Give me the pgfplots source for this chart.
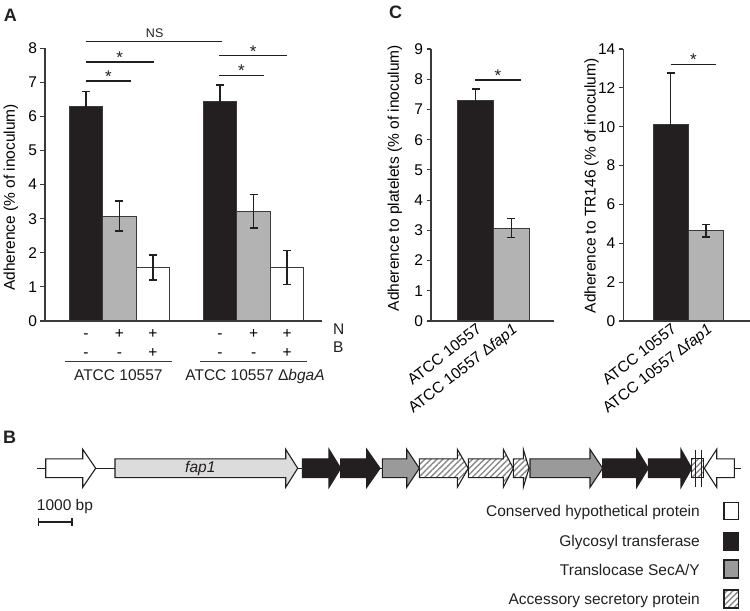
\documentclass[border=0pt]{standalone}
\usepackage{fontspec}
\setmainfont{Liberation Sans}
\usepackage{pgfplots}
\pgfplotsset{compat=1.18}
\usetikzlibrary{patterns.meta}
\definecolor{ink}{HTML}{231F20}
\definecolor{axc}{HTML}{3A3A3A}
\definecolor{bargray}{HTML}{B3B3B3}
\definecolor{genelight}{HTML}{DCDCDC}
\definecolor{genegray}{HTML}{9A9A9A}
\definecolor{hatchc}{HTML}{8A8A8A}
\newcommand{\txt}{\fontsize{15.5bp}{19bp}\selectfont}
\tikzset{
  hatch/.style={preaction={fill=white}, pattern={Lines[angle=45,distance=4.2bp,line width=1.4bp]}, pattern color=hatchc},
  sig/.style={ink, line width=1.3bp},
  sigstar/.style={anchor=base, inner sep=0pt, font=\fontsize{17bp}{17bp}\selectfont, yshift=-1.4bp, text=ink},
}
\newcommand{\gene}[4]{\draw[draw=ink, line width=1.1bp, #4] (#1,-9.4) -- (#2,-9.4) -- (#2,-19) -- (#3,0) -- (#2,19) -- (#2,9.4) -- (#1,9.4) -- cycle;}
\pgfplotsset{
  panel/.style={
    scale only axis, clip=false,
    axis x line*=bottom, axis y line*=left,
    axis line style={axc, line width=1.1bp, -},
    ytick style={axc, line width=1.1bp},
    xtick style={draw=none},
    tick align=outside,
    major tick length=4.5bp,
    ymin=0,
    ticklabel style={font=\txt},
    label style={font=\txt},
    /pgf/number format/assume math mode=true,
  },
  bars/.style={ybar, bar width=1, bar shift=0pt, draw=axc, line width=1bp,
    error bars/y dir=both, error bars/y explicit,
    error bars/error bar style={ink, line width=1.3bp},
    error bars/error mark options={ink, line width=1.3bp, mark size=4bp, rotate=90}},
  rotlabels/.style={xticklabel style={yshift=3bp, rotate=38, anchor=north east, inner sep=0pt}},
}
\begin{document}
\begin{tikzpicture}[font=\txt]
\path[use as bounding box] (0,0) rectangle (750bp,611bp);

% ---------------- Panel A ----------------
\begin{axis}[panel, at={(45bp,290bp)}, anchor=south west,
  width=277bp, height=272.7bp,
  xmin=-0.22, xmax=8.04, ymax=8, ytick={0,1,...,8},
  xtick={1,2,3,5,6,7},
  xticklabels={{\strut-\\-},{\strut+\\-},{\strut+\\+},{\strut-\\-},{\strut+\\-},{\strut+\\+}},
  xticklabel style={align=center, yshift=4bp},
  ylabel={Adherence (\% of inoculum)},
  ylabel style={at={(axis description cs:-0.123,0.453)}, anchor=center},
]
\addplot[bars, fill=ink] coordinates {(1,6.29) +- (0,0.45) (5,6.43) +- (0,0.49)};
\addplot[bars, fill=bargray] coordinates {(2,3.08) +- (0,0.44) (6,3.22) +- (0,0.49)};
\addplot[bars, fill=white] coordinates {(3,1.57) +- (0,0.37) (7,1.57) +- (0,0.50)};
\draw[sig] (axis cs:1,8.19) -- (axis cs:5.05,8.19);
\node[anchor=base, inner sep=0pt, font=\fontsize{12.5bp}{14bp}\selectfont, text=ink] at (axis cs:3.05,8.31) {NS};
\draw[sig] (axis cs:1,7.60) -- (axis cs:3.02,7.60);
\node[sigstar] at (axis cs:2.01,7.60) {*};
\draw[sig] (axis cs:1,7.04) -- (axis cs:2.34,7.04);
\node[sigstar] at (axis cs:1.67,7.04) {*};
\draw[sig] (axis cs:4.97,7.78) -- (axis cs:7.0,7.78);
\node[sigstar] at (axis cs:5.985,7.78) {*};
\draw[sig] (axis cs:4.97,7.21) -- (axis cs:6.31,7.21);
\node[sigstar] at (axis cs:5.64,7.21) {*};
\end{axis}

% ---------------- Panel C (platelets) ----------------
\begin{axis}[panel, rotlabels, at={(431bp,290bp)}, anchor=south west,
  width=123bp, height=272bp,
  xmin=-0.252, xmax=3.193, ymax=9, ytick={0,1,...,9},
  xtick={1,2}, xticklabels={ATCC 10557, ATCC 10557 Δ\textit{fap1}},
  ylabel={Adherence to platelets (\% of inoculum)},
  ylabel style={at={(axis description cs:-0.293,0.525)}, anchor=center},
]
\addplot[bars, fill=ink] coordinates {(1,7.31) +- (0,0.37)};
\addplot[bars, fill=bargray] coordinates {(2,3.07) +- (0,0.31)};
\draw[sig] (axis cs:0.99,7.97) -- (axis cs:2.26,7.97);
\node[sigstar] at (axis cs:1.625,7.97) {*};
\end{axis}

% ---------------- Panel C (TR146) ----------------
\begin{axis}[panel, rotlabels, at={(623.3bp,290bp)}, anchor=south west,
  width=126.7bp, height=272bp,
  xmin=-0.343, xmax=3.246, ymax=14, ytick={0,2,...,14},
  xtick={1,2}, xticklabels={ATCC 10557, ATCC 10557 Δ\textit{fap1}},
  ylabel={Adherence to TR146 (\% of inoculum)},
  ylabel style={at={(axis description cs:-0.251,0.497)}, anchor=center},
]
\addplot[bars, fill=ink] coordinates {(1,10.09) +- (0,2.67)};
\addplot[bars, fill=bargray] coordinates {(2,4.64) +- (0,0.32)};
\draw[sig] (axis cs:1,13.21) -- (axis cs:2.28,13.21);
\node[sigstar] at (axis cs:1.64,13.21) {*};
\end{axis}

% ---------------- pixel-coordinate annotations ----------------
\begin{scope}[x=1bp, y=-1bp, yshift=611bp, every node/.style={inner sep=0pt, text=ink}]
\node[font=\fontsize{18bp}{18bp}\selectfont\bfseries, anchor=center] at (10.3,15) {A};
\node[font=\fontsize{18bp}{18bp}\selectfont\bfseries, anchor=center] at (395.5,12.5) {C};
\node[font=\fontsize{18bp}{18bp}\selectfont\bfseries, anchor=center] at (9.5,437.5) {B};
% panel A: N/B and strain groups
\node[anchor=base west] at (333,334.5) {N};
\node[anchor=base west] at (333,353) {B};
\draw[axc, line width=1.1bp] (65,361.7) -- (171.7,361.7);
\draw[axc, line width=1.1bp] (200,361.7) -- (306.7,361.7);
\node[anchor=base] at (118.3,381) {ATCC 10557};
\node[anchor=base] at (255,381) {ATCC 10557 Δ\textit{bgaA}};
% panel B: gene map
\begin{scope}[shift={(0,468.3)}]
\draw[ink, line width=1.2bp] (37.3,0) -- (740.7,0);
\gene{45.7}{82.7}{95.7}{fill=white}
\gene{115}{285.7}{297.7}{fill=genelight}
\node[font=\txt\itshape] at (200.3,0) {fap1};
\gene{302.3}{329}{340.7}{fill=ink}
\gene{340.7}{366.7}{380}{fill=ink}
\gene{382.3}{406.7}{419.3}{fill=genegray}
\gene{419.3}{457.3}{468.3}{hatch}
\gene{468.3}{503.3}{513.3}{hatch}
\gene{513.3}{523.3}{529}{hatch}
\gene{530}{590}{602.7}{fill=genegray}
\gene{602.7}{636.7}{648.3}{fill=ink}
\gene{648.3}{681}{691.7}{fill=ink}
\draw[draw=ink, line width=1.1bp, hatch] (691.7,-9.4) rectangle (703.3,9.4);
\draw[ink, line width=1.1bp] (695.7,-18.5) -- (695.7,18.5) (701.7,-18.5) -- (701.7,18.5);
\draw[draw=ink, line width=1.1bp, fill=white] (734.3,-9.4) -- (716.7,-9.4) -- (716.7,-19) -- (704.3,0) -- (716.7,19) -- (716.7,9.4) -- (734.3,9.4) -- cycle;
\end{scope}
% scale bar
\node[anchor=base west] at (36.7,510.7) {1000 bp};
\draw[ink, line width=2.4bp] (38.3,522.3) -- (71.7,522.3);
\draw[ink, line width=1.6bp] (38.3,518.5) -- (38.3,526) (71.7,518.5) -- (71.7,526);
% legend
\node[anchor=base east] at (700,516.7) {Conserved hypothetical protein};
\node[anchor=base east] at (700,546.7) {Glycosyl transferase};
\node[anchor=base east] at (700,575.7) {Translocase SecA/Y};
\node[anchor=base east] at (700,605) {Accessory secretory protein};
\draw[draw=ink, line width=1.1bp, fill=white] (724,502.7) rectangle (738.3,519.3);
\draw[draw=ink, line width=1.1bp, fill=ink] (724,532.7) rectangle (738.3,550.7);
\draw[draw=ink, line width=1.1bp, fill=genegray] (724,560) rectangle (738.3,578);
\draw[draw=ink, line width=1.1bp, hatch] (724,590) rectangle (738.3,608);
\end{scope}
\end{tikzpicture}
\end{document}
